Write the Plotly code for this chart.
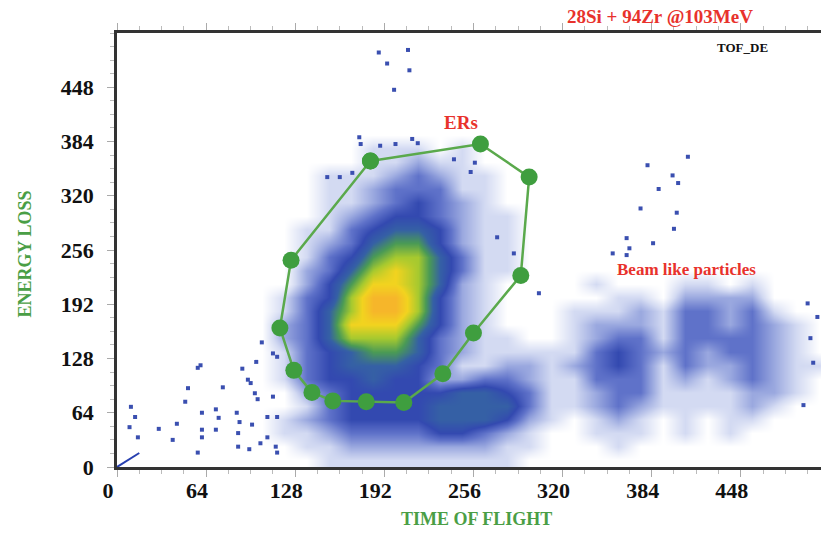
import plotly.graph_objects as go

# TOF vs dE spectrum, 16-channel bins, density level 0..9
# rows listed from top (ch 496-512) down to bottom (ch 0-16), 32 columns each
bin_size = 16
density_rows = [
    "00000000000000000000000000000000",  # 496
    "00000000000000000000000000000000",  # 480
    "00000000000000000000000000000000",  # 464
    "00000000000000000000000000000000",  # 448
    "00000000000000000000000000000000",  # 432
    "00000000000000000000000000000000",  # 416
    "00000000000000000000000000000000",  # 400
    "00000000000000000000000000000000",  # 384
    "00000000000111010000000000000000",  # 368
    "00000000000112110000000000000000",  # 352
    "00000000011123211000000000000000",  # 336
    "00000000011233311000000000000000",  # 320
    "00000000011234321000000000000000",  # 304
    "00000000012344321100000000000000",  # 288
    "00000000113455421100000000000000",  # 272
    "00000000123566421100000000000000",  # 256
    "00000000134677531100000000000000",  # 240
    "00000000235787531100000000000000",  # 224
    "00000000246887521000010001101000",  # 208
    "00000001347997421000001102222000",  # 192
    "00000001357997421000111213323100",  # 176
    "00000002358886421000122213323210",  # 160
    "00000002357775321100123313333210",  # 144
    "00000001345665321111134323233210",  # 128
    "00000001345554311221234313223211",  # 112
    "00000001344544223321133312123210",  # 96
    "00000000234444455431123311112210",  # 80
    "00000000134444555531123211112100",  # 64
    "00000001234444555421012101011000",  # 48
    "00000001123333443210011101010000",  # 32
    "00000000112222222110001000000000",  # 16
    "00000000011111111100000000000000",  # 0
]

# isolated counts outside the dense regions
sparse_x = [10, 13, 9, 15, 30, 40, 43, 49, 51, 58, 60, 58, 61, 61, 61, 71, 71, 73,
            76, 87, 87, 86, 88, 90, 94, 96, 95, 97, 99, 100, 101, 103, 104, 108,
            108, 112, 112, 115, 115, 114, 115,
            188, 194, 199, 209, 210, 174, 175, 189, 200, 212, 216, 242, 257, 254,
            151, 160, 169, 273, 285, 303,
            381, 410, 399, 403, 389, 376, 402, 400, 385, 366, 368, 356, 366,
            496, 503, 498, 493, 500]
sparse_y = [71, 59, 47, 35, 45, 32, 51, 77, 93, 117, 120, 17, 64, 44, 35, 44, 68, 58,
            94, 40, 24, 64, 53, 116, 103, 99, 21, 50, 87, 124, 80, 28, 147, 35,
            59, 83, 134, 59, 130, 24, 17,
            489, 476, 445, 492, 468, 389, 381, 379, 381, 387, 382, 363, 359, 348,
            342, 342, 347, 271, 252, 205,
            356, 366, 344, 335, 328, 305, 300, 281, 264, 270, 258, 252, 250,
            193, 177, 152, 73, 123]

# ER gate polygon
gate_x = [182, 261, 296, 290, 256, 234, 206, 179, 155, 140, 127, 117, 125]
gate_y = [361, 381, 342, 226, 158, 110, 76, 77, 78, 88, 114, 164, 244]

# short trace near the origin
diag_x = [0, 16]
diag_y = [0, 16.5]

tick_vals = [0, 64, 128, 192, 256, 320, 384, 448]

z = [[int(c) for c in row] for row in reversed(density_rows)]

red = "#e8322c"
green = "#4a9e45"
serif = "Liberation Serif, Times New Roman, serif"

fig = go.Figure()

fig.add_trace(go.Heatmap(
    z=z, x0=bin_size / 2, dx=bin_size, y0=bin_size / 2, dy=bin_size,
    zmin=0, zmax=9, zsmooth="best", showscale=False, hoverinfo="skip",
    colorscale=[
        [0.0, "#ffffff"],
        [1 / 9, "#d3daf2"],
        [2 / 9, "#9aa8df"],
        [3 / 9, "#5f72c9"],
        [4 / 9, "#3349b0"],
        [5 / 9, "#3560a5"],
        [6 / 9, "#4a9a55"],
        [7 / 9, "#a6c92f"],
        [8 / 9, "#f2d31f"],
        [1.0, "#f6b62a"],
    ],
))

fig.add_trace(go.Scatter(
    x=sparse_x, y=sparse_y, mode="markers",
    marker=dict(symbol="square", size=4, color="#3a4fb0"),
    hoverinfo="skip",
))

fig.add_trace(go.Scatter(
    x=diag_x, y=diag_y, mode="lines",
    line=dict(color="#2840b0", width=2), hoverinfo="skip",
))

fig.add_trace(go.Scatter(
    x=gate_x + gate_x[:1], y=gate_y + gate_y[:1], mode="lines+markers",
    line=dict(color="#5aa94c", width=2.5),
    marker=dict(size=17, color="#3f9e3f"),
))

axis_common = dict(
    showgrid=False, zeroline=False, showline=True, linecolor="#333333",
    linewidth=2.5, ticks="outside", ticklen=7, tickcolor="#aaaaaa",
    tickvals=tick_vals, automargin=False,
    tickfont=dict(family=serif, size=22, color="#111111", weight="bold"),
    minor=dict(ticks="outside", dtick=16, ticklen=4, tickcolor="#bbbbbb"),
)

fig.update_xaxes(range=[0, 505.6], mirror="ticks", ticklabelshift=-9,
                 ticklabelstandoff=-5, **axis_common)
fig.update_yaxes(range=[0, 512], ticklabelstandoff=9, **axis_common)

ann_font = dict(family=serif, weight="bold")
ann_pos = dict(xref="paper", yref="paper", showarrow=False,
               xanchor="center", yanchor="middle")
fig.update_layout(
    width=821, height=533,
    margin=dict(l=117, r=0, t=33, b=66),
    paper_bgcolor="white", plot_bgcolor="white",
    showlegend=False,
    annotations=[
        dict(text="28Si + 94Zr @103MeV", x=0.7706, y=1.0369,
             font=dict(size=19, color=red, **ann_font), **ann_pos),
        dict(text="TOF_DE", x=0.8878, y=0.9677,
             font=dict(size=13, color="#111111", **ann_font), **ann_pos),
        dict(text="ERs", x=247, y=407, showarrow=False,
             font=dict(size=19, color=red, **ann_font)),
        dict(text="Beam like particles", x=409, y=233, showarrow=False,
             font=dict(size=17, color=red, **ann_font)),
        dict(text="TIME OF FLIGHT", x=0.511, y=-0.1198,
             font=dict(size=18, color=green, **ann_font), **ann_pos),
        dict(text="ENERGY LOSS", x=-0.1314, y=0.491, textangle=-90,
             font=dict(size=18, color=green, **ann_font), **ann_pos),
    ],
)

fig.write_html("out.html", config={"displayModeBar": False},
               post_script="document.body.style.margin='0px';")
